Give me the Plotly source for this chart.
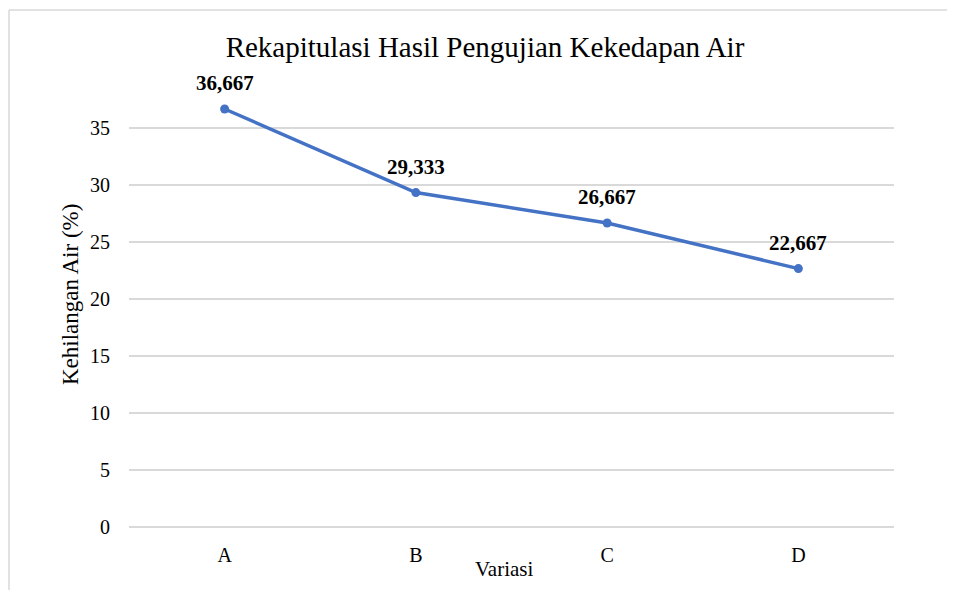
import plotly.graph_objects as go

categories = ["A", "B", "C", "D"]
values = [36.667, 29.333, 26.667, 22.667]
labels = ["36,667", "29,333", "26,667", "22,667"]
y_ticks = [0, 5, 10, 15, 20, 25, 30, 35]

W, H = 955, 590
OFF = 8  # page body margin
L, R, T, B = 129 - OFF, 894 - OFF, 71 - OFF, 527 - OFF

def px_x(p):
    return (p - OFF - L) / (R - L)

def px_y(p):
    return (B - (p - OFF)) / (B - T)

SERIF = "Liberation Serif"

fig = go.Figure()
fig.add_trace(go.Scatter(
    x=categories, y=values,
    mode="lines+markers",
    line=dict(color="#4472C4", width=3.5),
    marker=dict(color="#4472C4", size=9),
    cliponaxis=False,
    hoverinfo="x+y",
))

annotations = [
    dict(x=c, y=v, xref="x", yref="y", text=f"<b>{t}</b>", showarrow=False,
         yshift=26, font=dict(family=SERIF, size=21, color="#000000"))
    for c, v, t in zip(categories, values, labels)
]
annotations.append(dict(
    x=px_x(504), y=px_y(569), xref="paper", yref="paper", text="Variasi",
    showarrow=False, xanchor="center", yanchor="middle",
    font=dict(family=SERIF, size=21, color="#000000")))
annotations.append(dict(
    x=px_x(70), y=px_y(295), xref="paper", yref="paper", text="Kehilangan Air (%)",
    showarrow=False, xanchor="center", yanchor="middle", textangle=-90,
    font=dict(family=SERIF, size=23, color="#000000")))

fig.update_layout(
    width=W, height=H,
    margin=dict(l=L, r=W - R, t=T, b=H - B),
    paper_bgcolor="white",
    plot_bgcolor="white",
    showlegend=False,
    font=dict(family=SERIF, color="#000000", size=20),
    title=dict(
        text="Rekapitulasi Hasil Pengujian Kekedapan Air",
        x=(485 - OFF) / W, xanchor="center", y=(H - (47 - OFF)) / H, yanchor="middle",
        font=dict(family=SERIF, size=29, color="#000000"),
    ),
    xaxis=dict(
        type="category",
        range=[-0.5, 3.5],
        showgrid=False,
        showline=False,
        zeroline=False,
        ticks="",
        ticklabelstandoff=14,
        tickfont=dict(family=SERIF, size=20),
    ),
    yaxis=dict(
        range=[0, 40],
        tickvals=y_ticks,
        showgrid=True,
        gridcolor="#d9d9d9",
        gridwidth=1.5,
        zeroline=True,
        zerolinecolor="#d9d9d9",
        zerolinewidth=1.5,
        showline=False,
        ticks="",
        ticklabelstandoff=18,
        tickfont=dict(family=SERIF, size=20),
    ),
    annotations=annotations,
    shapes=[
        dict(type="line", xref="paper", yref="paper",
             x0=px_x(9), x1=px_x(W + 20), y0=px_y(10), y1=px_y(10),
             line=dict(color="#d9d9d9", width=1.5)),
        dict(type="line", xref="paper", yref="paper",
             x0=px_x(9), x1=px_x(9), y0=px_y(10), y1=px_y(H + 20),
             line=dict(color="#d9d9d9", width=1.5)),
    ],
)

fig.write_html("out.html")
